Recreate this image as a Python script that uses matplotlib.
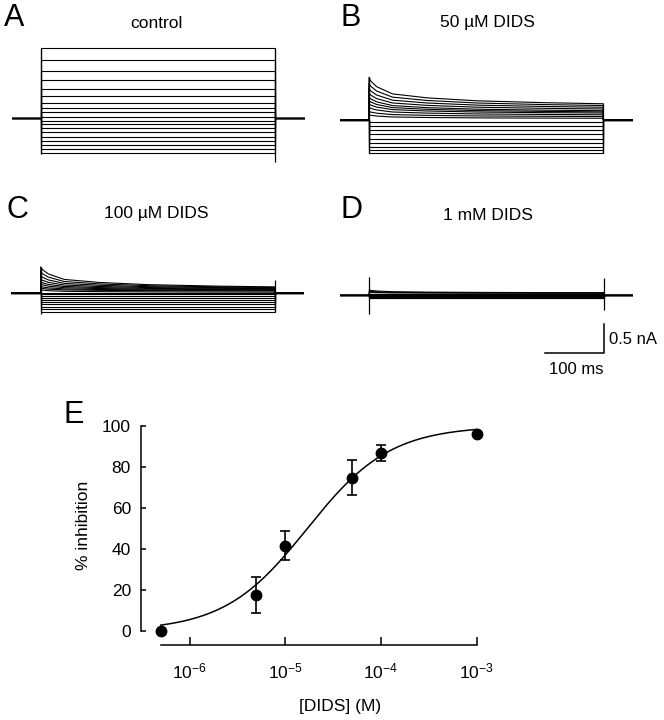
import numpy as np
import matplotlib
matplotlib.use('Agg')
import matplotlib.pyplot as plt

plt.rcParams['font.family'] = ['Liberation Sans', 'DejaVu Sans']
plt.rcParams['mathtext.default'] = 'regular'

W = 664
H = 720

#current traces, nA relative to holding, one value per sweep
A_steady = [1.21, 0.99, 0.80, 0.65, 0.49, 0.37, 0.25, 0.16, 0.09, 0.02, -0.06, -0.11, -0.18, -0.25, -0.33, -0.40, -0.47, -0.54, -0.61]
A_peak = A_steady

B_steady = [0.28, 0.25, 0.22, 0.19, 0.16, 0.14, 0.12, 0.09, 0.06, 0.03, -0.03, -0.10, -0.17, -0.24, -0.32, -0.39, -0.46, -0.52, -0.57]
B_peak = [0.74, 0.64, 0.55, 0.47, 0.40, 0.34, 0.28, 0.22, 0.15, 0.09, -0.03, -0.10, -0.17, -0.24, -0.32, -0.39, -0.46, -0.52, -0.57]

C_steady = [0.11, 0.10, 0.09, 0.08, 0.07, 0.06, 0.05, 0.04, 0.02, 0.0, -0.02, -0.05, -0.08, -0.11, -0.15, -0.19, -0.23, -0.27, -0.32]
C_peak = [0.46, 0.38, 0.31, 0.25, 0.20, 0.16, 0.12, 0.09, 0.06, 0.0, -0.02, -0.05, -0.08, -0.11, -0.15, -0.19, -0.23, -0.27, -0.32]

D_steady = [0.045, 0.04, 0.035, 0.03, 0.025, 0.02, 0.015, 0.01, 0.005, 0.0, -0.005, -0.01, -0.015, -0.02, -0.025, -0.03, -0.035, -0.04, -0.045]
D_peak = [0.09, 0.07, 0.055, 0.03, 0.025, 0.02, 0.015, 0.01, 0.005, 0.0, -0.005, -0.01, -0.015, -0.02, -0.025, -0.03, -0.035, -0.04, -0.045]

#decay of the transient part (fraction left)
profile_t = [0, 3, 13, 40, 100, 185, 300, 400]
profile_f = [1, 0.85, 0.64, 0.37, 0.22, 0.11, 0.04, 0]

#capacitive spikes at pulse on / off (top, bottom) in nA
A_on, A_off = (1.21, -0.63), (1.21, -0.76)
B_on, B_off = (0.74, -0.57), (0.28, -0.57)
C_on, C_off = (0.46, -0.36), (0.23, -0.33)
D_on, D_off = (0.31, -0.32), (0.30, -0.25)

#dose response
conc = [5e-7, 5e-6, 1e-5, 5e-5, 1e-4, 1e-3]
inhib = [0, 17.6, 41.6, 74.8, 86.7, 96.3]
inhib_err = [0, 8.8, 7.0, 8.4, 4.0, 0]
IC50 = 1.7e-5
n_hill = 1.0


def px_axes(x0, y0, x1, y1):
    return fig.add_axes([x0 / W, 1 - y1 / H, (x1 - x0) / W, (y1 - y0) / H])


def draw_traces(ax, steady, peak, on, off):
    for s, p in zip(steady, peak):
        vals = [s + (p - s) * f for f in profile_f]
        x = [-50, 0] + profile_t + [400, 450]
        y = [0, 0] + vals + [0, 0]
        ax.plot(x, y, color='black', lw=0.8, solid_joinstyle='miter')
    ax.vlines([0], on[1], on[0], color='black', lw=0.9)
    ax.vlines([400], off[1], off[0], color='black', lw=0.9)
    ax.set_xlim(-50, 450)
    ax.set_ylim(-1.1, 1.4)
    ax.axis('off')


fig = plt.figure(figsize=(W / 100, H / 100), dpi=100)

# 58 px per nA, 0.586 px per ms
axA = px_axes(11.7, 117.7 - 81.2, 304.7, 117.7 + 63.8)
draw_traces(axA, A_steady, A_peak, A_on, A_off)
axB = px_axes(339.7, 120 - 81.2, 632.7, 120 + 63.8)
draw_traces(axB, B_steady, B_peak, B_on, B_off)
axC = px_axes(11.4, 293.3 - 81.2, 304.4, 293.3 + 63.8)
draw_traces(axC, C_steady, C_peak, C_on, C_off)
axD = px_axes(340, 295.3 - 81.2, 633, 295.3 + 63.8)
draw_traces(axD, D_steady, D_peak, D_on, D_off)

#scale bar
axD.plot([300, 400, 400], [-1.0, -1.0, -0.5], color='black', lw=1.1, clip_on=False)
fig.text(609 / W, 1 - 339 / H, '0.5 nA', fontsize=12, ha='left', va='center')
fig.text(576 / W, 1 - 370 / H, '100 ms', fontsize=12, ha='center', va='center')

#letters and titles
for letter, x, y in [('A', 4, 18), ('B', 341, 18), ('C', 6, 210), ('D', 341, 210), ('E', 64, 415)]:
    fig.text(x / W, 1 - y / H, letter, fontsize=22, ha='left', va='center')
for title, x, y in [('control', 156.7, 23), ('50 µM DIDS', 487.5, 23), ('100 µM DIDS', 155.8, 213), ('1 mM DIDS', 487.5, 215)]:
    fig.text(x / W, 1 - y / H, title, fontsize=12.5, ha='center', va='center')

#panel E
axE = px_axes(160.7, 426, 476.7, 631)
xfit = np.logspace(np.log10(5e-7), np.log10(1e-3), 300)
yfit = 100 / (1 + (IC50 / xfit) ** n_hill)
axE.plot(xfit, yfit, color='black', lw=1.1, clip_on=False)
axE.errorbar(conc, inhib, yerr=inhib_err, fmt='o', color='black', ms=7.5,
             elinewidth=1.2, capsize=3.5, capthick=1.2, clip_on=False, zorder=3)
axE.set_xscale('log')
axE.set_xlim(5e-7, 1e-3)
axE.set_ylim(0, 100)
axE.set_yticks([0, 20, 40, 60, 80, 100])
axE.set_xticks([1e-6, 1e-5, 1e-4, 1e-3])
axE.minorticks_off()
axE.spines['top'].set_visible(False)
axE.spines['right'].set_visible(False)
axE.spines['left'].set_position(('outward', 14.4))
axE.spines['bottom'].set_position(('outward', 10.1))
axE.spines['left'].set_linewidth(1.1)
axE.spines['bottom'].set_linewidth(1.1)
axE.tick_params(axis='y', direction='in', length=3.6, width=1.1, pad=7, labelsize=12.5)
axE.tick_params(axis='x', direction='in', length=5.5, width=1.1, pad=12, labelsize=12.5)
fig.text(83.3 / W, 1 - 525 / H, '% inhibition', fontsize=12.5, rotation=90, ha='center', va='center')
fig.text(340 / W, 1 - 706.7 / H, '[DIDS] (M)', fontsize=12.5, ha='center', va='center')

fig.savefig('out.png', dpi=100)
